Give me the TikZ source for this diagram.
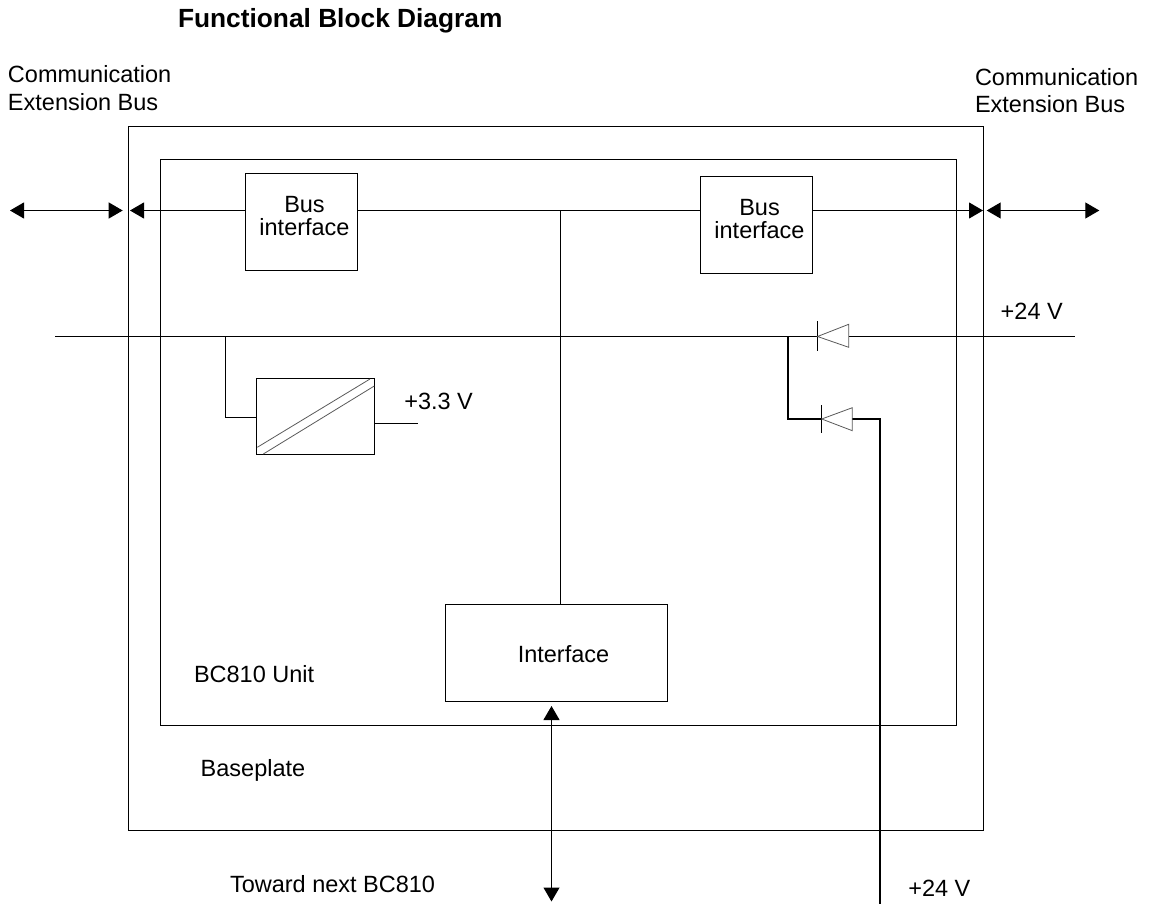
\documentclass[tikz,border=0pt]{standalone}
\usepackage{fontspec}
\setmainfont{Liberation Sans}
\usetikzlibrary{arrows.meta}
\tikzset{
  lbl/.style={inner sep=0pt,outer sep=0pt,anchor=base west,font=\fontsize{23.5}{28}\selectfont},
  ttl/.style={inner sep=0pt,outer sep=0pt,anchor=base west,font=\fontsize{26.3}{30}\selectfont\bfseries},
  box/.style={draw,rectangle,inner sep=0pt,outer sep=0pt,font=\fontsize{23.5}{23.3}\selectfont,align=center},
  wire/.style={line width=1.1pt},
  hwire/.style={line width=2pt},
  bigtip/.style={{Triangle[length=14pt,width=16pt]}-{Triangle[length=14pt,width=16pt]}},
  endtip/.style={-{Triangle[length=14pt,width=16pt]}},
  diode/.style={line width=0.8pt,draw=black!65},
}
\begin{document}
\begin{tikzpicture}[x=1pt,y=-1pt,line width=1.1pt]
\useasboundingbox (0,0) rectangle (1154,904);
% enclosures
\node[box,minimum width=855pt,minimum height=704pt] (base) at (556,478.5) {};
\node[box,minimum width=796pt,minimum height=566pt] (unit) at (558.5,442.5) {};
% blocks
\node[box,minimum width=112pt,minimum height=97pt] (bus1) at (301.5,222) {\hspace*{6pt}Bus\\\hspace*{6pt}interface\\[-11.3pt]~};
\node[box,minimum width=112pt,minimum height=97pt] (bus2) at (756.5,225) {\hspace*{6pt}Bus\\\hspace*{6pt}interface\\[-11.3pt]~};
\node[box,minimum width=222pt,minimum height=97pt] (iface) at (556.5,653) {\hspace*{14pt}\raisebox{0pt}[19pt][0pt]{Interface}};
\node[box,minimum width=118pt,minimum height=76pt] (conv) at (315.5,416.5) {};
% named points
\coordinate (a1l) at (10,210.5);
\coordinate (a1r) at (122.7,210.5);
\coordinate (a2) at (130,210.5);
\coordinate (a3) at (983,210.5);
\coordinate (a4l) at (986.7,210.5);
\coordinate (a4r) at (1099.3,210.5);
\coordinate (j) at (560.5,210.5);
\coordinate (railw) at (55,336.5);
\coordinate (raile) at (1075,336.5);
\coordinate (d1k) at (817.5,336.5);
\coordinate (d1a) at (848.7,336.5);
\coordinate (d2k) at (821.7,419);
\coordinate (d2a) at (852.3,419);
\coordinate (tap) at (225.5,336.5);
\coordinate (hj) at (788,336.5);
\coordinate (out) at (417.7,423.5);
\coordinate (hb) at (880,904);
\coordinate (vt) at (551.5,706);
\coordinate (vb) at (551.5,901.5);
% connectors
\draw[wire,bigtip] (a1l) -- (a1r);
\draw[wire,endtip] (bus1.west |- a2) -- (a2);
\draw[wire] (bus1.east |- j) -- (bus2.west |- j);
\draw[wire,endtip] (bus2.east |- a3) -- (a3);
\draw[wire,bigtip] (a4l) -- (a4r);
\draw[wire] (j) -- (j |- iface.north);
\draw[wire] (railw) -- (d1k);
\draw[wire] (d1a) -- (raile);
\draw[wire] (tap) -- (tap |- 0,417.5) -- (conv.west |- 0,417.5);
\draw[wire] (conv.east |- out) -- (out);
\draw[hwire,line join=miter] (hj) -- (hj |- d2k) -- (d2k);
\draw[hwire,line join=miter] (d2a) -- (hb |- d2a) -- (hb);
\draw[wire,bigtip] (vt) -- (vb);
% converter diagonals
\draw[diode] (257.3,447.3) -- (370,379);
\draw[diode] (263.3,454) -- (374.3,386);
% diodes
\draw[line width=0.9pt] (817.5,321) -- (817.5,350.7);
\draw[diode] (817.5,336.5) -- (848.7,324.3) -- (848.7,347.3) -- cycle;
\draw[line width=0.9pt] (821.7,405) -- (821.7,433);
\draw[diode] (821.7,419) -- (852.3,407.7) -- (852.3,430.7) -- cycle;
% labels
\node[ttl] (title) at (178,28) {Functional Block Diagram};
\node[lbl] (cl1) at (8,83) {Communication};
\node[lbl] (cl2) at (8,111) {Extension Bus};
\node[lbl] (cr1) at (975,86) {Communication};
\node[lbl] (cr2) at (975,113) {Extension Bus};
\node[lbl] (v24a) at (1000.7,319.3) {+24 V};
\node[lbl] (v33) at (404.3,409.3) {+3.3 V};
\node[lbl] (unitl) at (194,682.7) {BC810 Unit};
\node[lbl] (basel) at (200.7,776) {Baseplate};
\node[lbl] (toward) at (230,892) {Toward next BC810};
\node[lbl] (v24b) at (908.3,896) {+24 V};
\end{tikzpicture}
\end{document}
